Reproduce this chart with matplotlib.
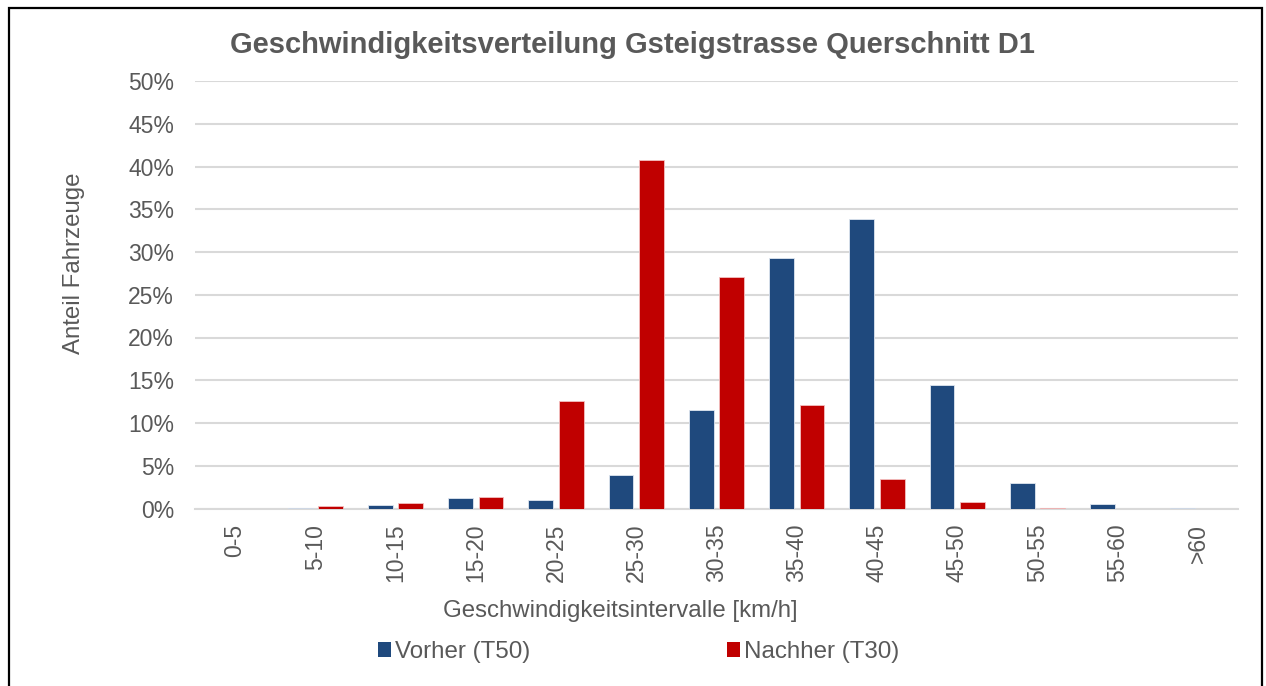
import matplotlib
matplotlib.use("Agg")
import matplotlib.pyplot as plt
from matplotlib.patches import Rectangle, Patch
from matplotlib.ticker import FuncFormatter, MultipleLocator
import numpy as np

categories = ["0-5", "5-10", "10-15", "15-20", "20-25", "25-30", "30-35",
              "35-40", "40-45", "45-50", "50-55", "55-60", ">60"]
vorher = [0.0, 0.05, 0.4, 1.25, 1.0, 3.9, 11.5, 29.3, 33.9, 14.4, 3.0, 0.5, 0.05]
nachher = [0.0, 0.3, 0.65, 1.4, 12.6, 40.8, 27.1, 12.1, 3.5, 0.75, 0.1, 0.0, 0.0]
series_names = ["Vorher (T50)", "Nachher (T30)"]
colors = ["#1F497D", "#C00000"]

plt.rcParams['font.family'] = ['Liberation Sans', 'DejaVu Sans']
W, H = 1266, 686
fig = plt.figure(figsize=(W / 100, H / 100), dpi=100)
ax = fig.add_axes([195 / W, 1 - 508.5 / H, (1238 - 195) / W, (508.5 - 81) / H])

x = np.arange(len(categories))
bw = 0.31
off = 0.19
ax.bar(x - off, vorher, bw, color=colors[0], edgecolor="#dfe6f0", linewidth=0.6, zorder=3)
ax.bar(x + off, nachher, bw, color=colors[1], edgecolor="#f3c0c0", linewidth=0.6, zorder=3)

ax.set_xlim(-0.5, len(categories) - 0.5)
ax.set_ylim(0, 50)
ax.yaxis.set_major_locator(MultipleLocator(5))
ax.yaxis.set_major_formatter(FuncFormatter(lambda v, p: f"{v:.0f}%"))
ax.grid(axis="y", color="#d9d9d9", linewidth=1.5, zorder=0)
ax.set_axisbelow(True)
for s in ["top", "right", "left"]:
    ax.spines[s].set_visible(False)
ax.spines["bottom"].set_color("#d9d9d9")
ax.spines["bottom"].set_linewidth(1.5)

txt = "#595959"
ax.set_xticks(x)
ax.set_xticklabels(categories, rotation=90)
ax.tick_params(axis="x", length=0, pad=11, labelsize=16.5, labelcolor=txt)
ax.tick_params(axis="y", length=0, pad=15, labelsize=16.5, labelcolor=txt)

ax.set_xlabel("Geschwindigkeitsintervalle [km/h]", fontsize=17.3, color=txt)
ax.xaxis.set_label_coords((620 - 195) / 1043, (508.5 - 600) / 427.5)
ax.set_ylabel("Anteil Fahrzeuge", fontsize=17.3, color=txt)
ax.yaxis.set_label_coords((85 - 195) / 1043, (508.5 - 263) / 427.5)

fig.text(632 / W, 1 - 45 / H, "Geschwindigkeitsverteilung Gsteigstrasse Querschnitt D1",
         ha="center", va="center", fontsize=21, fontweight="bold", color=txt)

handles = [Patch(facecolor=c, edgecolor="none") for c in colors]
leg = fig.legend(handles, series_names, loc="center", bbox_to_anchor=(638.5 / W, 1 - 652 / H),
                 ncol=2, frameon=False, fontsize=17.4, handlelength=0.54, handleheight=0.54,
                 handletextpad=0.17, columnspacing=8.15, labelcolor=txt,
                 borderpad=0, borderaxespad=0)

fig.add_artist(Rectangle((9 / W, -0.05), (1262 - 9) / W, 1.05 - 8 / H,
                         transform=fig.transFigure, fill=False, edgecolor="black",
                         linewidth=1.6))

fig.savefig("out.png", dpi=100)
